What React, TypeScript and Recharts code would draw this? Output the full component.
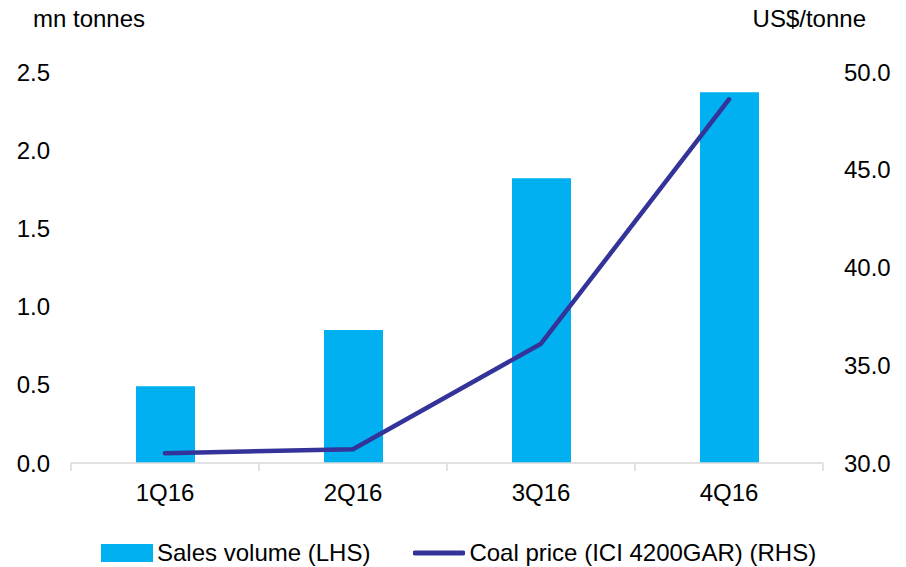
import { ComposedChart, Bar, Line, XAxis, YAxis, Legend } from "recharts";

// quarters on the x axis
const quarters = ["1Q16", "2Q16", "3Q16", "4Q16"];
// sales volume, mn tonnes (left axis)
const salesVolume = [0.49, 0.85, 1.82, 2.37];
// coal price ICI 4200GAR, US$/tonne (right axis)
const coalPrice = [30.5, 30.7, 36.1, 48.6];
const leftTicks = [0, 0.5, 1, 1.5, 2, 2.5];
const rightTicks = [30, 35, 40, 45, 50];

const data = quarters.map((q, i) => ({
  quarter: q,
  sales: salesVolume[i],
  price: coalPrice[i],
}));

const FONT = "'Liberation Sans', Arial, sans-serif";
const FS = 24;
const AXIS_GRAY = "#d9d9d9";

// x tick: label under the category, tick marks at the category boundaries
const QuarterTick = (props: any) => {
  const { x, y, payload, index } = props;
  const half = payload && payload.offset ? payload.offset : 94;
  const last = index === quarters.length - 1;
  return (
    <g>
      <line x1={x - half} x2={x - half} y1={y} y2={y + 8} stroke={AXIS_GRAY} strokeWidth={1.5} />
      {last && <line x1={x + half} x2={x + half} y1={y} y2={y + 8} stroke={AXIS_GRAY} strokeWidth={1.5} />}
      <text x={x} y={y + 38} textAnchor="middle" fontSize={FS} fontFamily={FONT} fill="#000">
        {payload.value}
      </text>
    </g>
  );
};

const renderLegend = (props: any) => {
  // bars first, then the line, as in the source chart
  const items = [...(props.payload || [])].sort(
    (a: any, b: any) => (a.type === "line" ? 1 : 0) - (b.type === "line" ? 1 : 0)
  );
  return (
    <div
      style={{
        position: "absolute",
        left: 0,
        top: 0,
        width: 906,
        height: 34,
        display: "flex",
        alignItems: "center",
        paddingLeft: 101,
        gap: 43,
        fontFamily: FONT,
        fontSize: FS,
        color: "#000",
        boxSizing: "border-box",
      }}
    >
      {items.map((it: any) => (
        <div key={it.value} style={{ display: "flex", alignItems: "center", gap: 4 }}>
          {it.type === "line" ? (
            <svg width={52} height={18}>
              <line x1={2} x2={50} y1={9} y2={9} stroke={it.color} strokeWidth={5} strokeLinecap="round" />
            </svg>
          ) : (
            <svg width={52} height={18}>
              <rect x={0} y={0} width={52} height={18} fill={it.color} />
            </svg>
          )}
          <span style={{ whiteSpace: "nowrap" }}>{it.value}</span>
        </div>
      ))}
    </div>
  );
};

export default function App() {
  return (
    <div style={{ position: "absolute", left: 0, top: 0, width: 906, height: 567, background: "#fff" }}>
      <ComposedChart
        width={906}
        height={567}
        data={data}
        margin={{ top: 72, right: 0, bottom: 54, left: 0 }}
      >
        <XAxis
          dataKey="quarter"
          axisLine={{ stroke: AXIS_GRAY, strokeWidth: 1.5 }}
          tickLine={false}
          tickSize={0}
          tickMargin={0}
          height={50}
          tick={<QuarterTick />}
          interval={0}
        />
        <YAxis
          yAxisId="left"
          orientation="left"
          width={71}
          domain={[0, 2.5]}
          ticks={leftTicks}
          allowDataOverflow
          axisLine={false}
          tickLine={false}
          tickSize={0}
          tickMargin={21}
          tickFormatter={(v: number) => v.toFixed(1)}
          tick={{ fontSize: FS, fontFamily: FONT, fill: "#000" }}
          label={{
            content: () => (
              <text x={33} y={27} fontSize={FS} fontFamily={FONT} fill="#000">
                mn tonnes
              </text>
            ),
          }}
        />
        <YAxis
          yAxisId="right"
          orientation="right"
          width={83}
          domain={[30, 50]}
          ticks={rightTicks}
          allowDataOverflow
          axisLine={false}
          tickLine={false}
          tickSize={0}
          tickMargin={21}
          tickFormatter={(v: number) => v.toFixed(1)}
          tick={{ fontSize: FS, fontFamily: FONT, fill: "#000", textAnchor: "start" }}
          label={{
            content: () => (
              <text x={866} y={27} textAnchor="end" fontSize={FS} fontFamily={FONT} fill="#000">
                US$/tonne
              </text>
            ),
          }}
        />
        <Bar
          yAxisId="left"
          dataKey="sales"
          name="Sales volume (LHS)"
          fill="#00B0F0"
          barSize={59}
          isAnimationActive={false}
        />
        <Line
          yAxisId="right"
          dataKey="price"
          name="Coal price (ICI 4200GAR) (RHS)"
          type="linear"
          stroke="#333399"
          strokeWidth={4.5}
          strokeLinecap="round"
          strokeLinejoin="round"
          dot={false}
          activeDot={false}
          isAnimationActive={false}
        />
        <Legend
          content={renderLegend}
          wrapperStyle={{ position: "absolute", left: 0, top: 536, bottom: "auto", width: 906, height: 0, overflow: "visible" }}
        />
      </ComposedChart>
    </div>
  );
}
